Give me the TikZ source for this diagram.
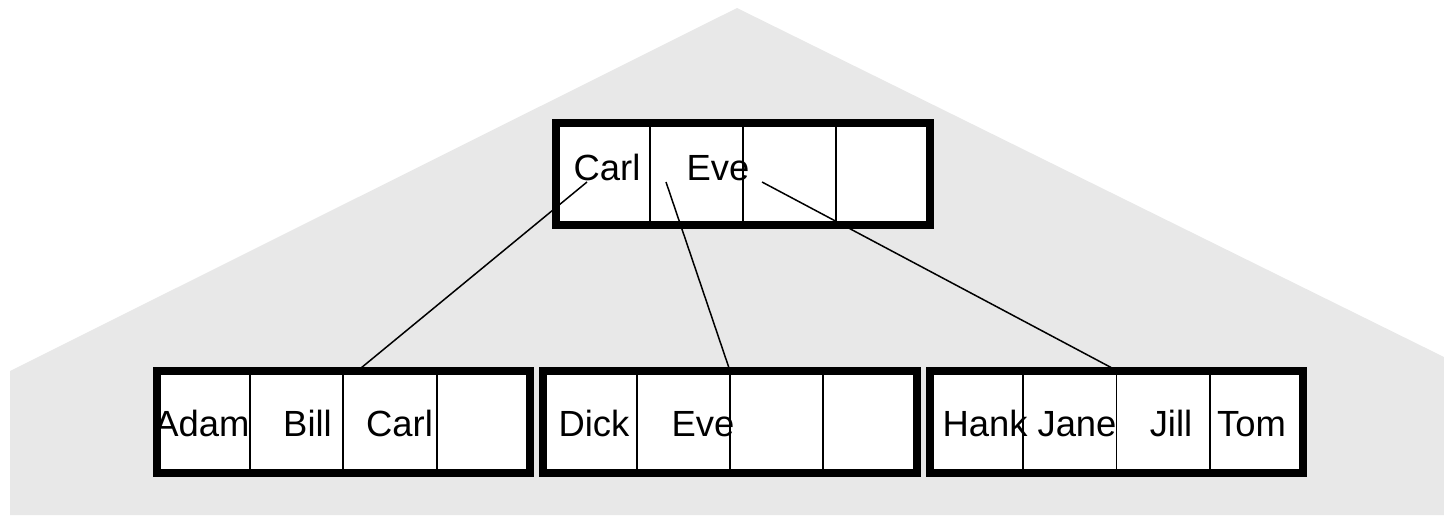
\documentclass[tikz,border=0pt]{standalone}
\usepackage{fontspec}
\setmainfont{Liberation Sans}
\definecolor{panelgray}{RGB}{232,232,232}
\begin{document}
\begin{tikzpicture}[x=0.5pt,y=-0.5pt,
  cell/.style={draw=black,line width=0.9pt,fill=white,inner sep=0pt,
    minimum width=46.67pt,minimum height=51pt},
  frame/.style={draw=black,line width=4pt,inner sep=0pt,
    minimum width=186.67pt,minimum height=51pt},
  key/.style={font=\fontsize{18.2pt}{20pt}\selectfont,anchor=base,inner sep=0pt},
  link/.style={draw=black,line width=0.75pt}]
\useasboundingbox (0,0) rectangle (1444,515);

% grey backdrop
\fill[panelgray] (10,515) -- (10,371) -- (737,8) -- (1444,357) -- (1444,515) -- cycle;

% a B-tree node: four cells under a heavy frame
\newcommand{\btnode}[3]{%
  \node[cell] (#1c1) at (#2-140,#3) {};
  \node[cell] (#1c2) at (#2-46.67,#3) {};
  \node[cell] (#1c3) at (#2+46.67,#3) {};
  \node[cell] (#1c4) at (#2+140,#3) {};
  \node[frame] (#1) at (#2,#3) {};}

\btnode{root}{743}{174}
\btnode{leafA}{343.3}{422}
\btnode{leafB}{730}{422}
\btnode{leafC}{1116.5}{422}

% keys
\node[key] (rk1) at (607,180) {Carl};
\node[key] (rk2) at (718,180) {Eve};

\node[key] (ak1) at (202,436) {Adam};
\node[key] (ak2) at (307.5,436) {Bill};
\node[key] (ak3) at (399.5,436) {Carl};

\node[key] (bk1) at (594,436) {Dick};
\node[key] (bk2) at (703,436) {Eve};

\node[key] (ck1) at (985,436) {Hank};
\node[key] (ck2) at (1077,436) {Jane};
\node[key] (ck3) at (1171,436) {Jill};
\node[key] (ck4) at (1251.5,436) {Tom};

% child pointers
\coordinate (p1) at (587,182);
\coordinate (p2) at (666,182);
\coordinate (p3) at (762,182);
\coordinate (t1) at (361,368);
\coordinate (t2) at (729,368);
\coordinate (t3) at (1112,368);
\draw[link] (p1) -- (t1);
\draw[link] (p2) -- (t2);
\draw[link] (p3) -- (t3);
\end{tikzpicture}
\end{document}
